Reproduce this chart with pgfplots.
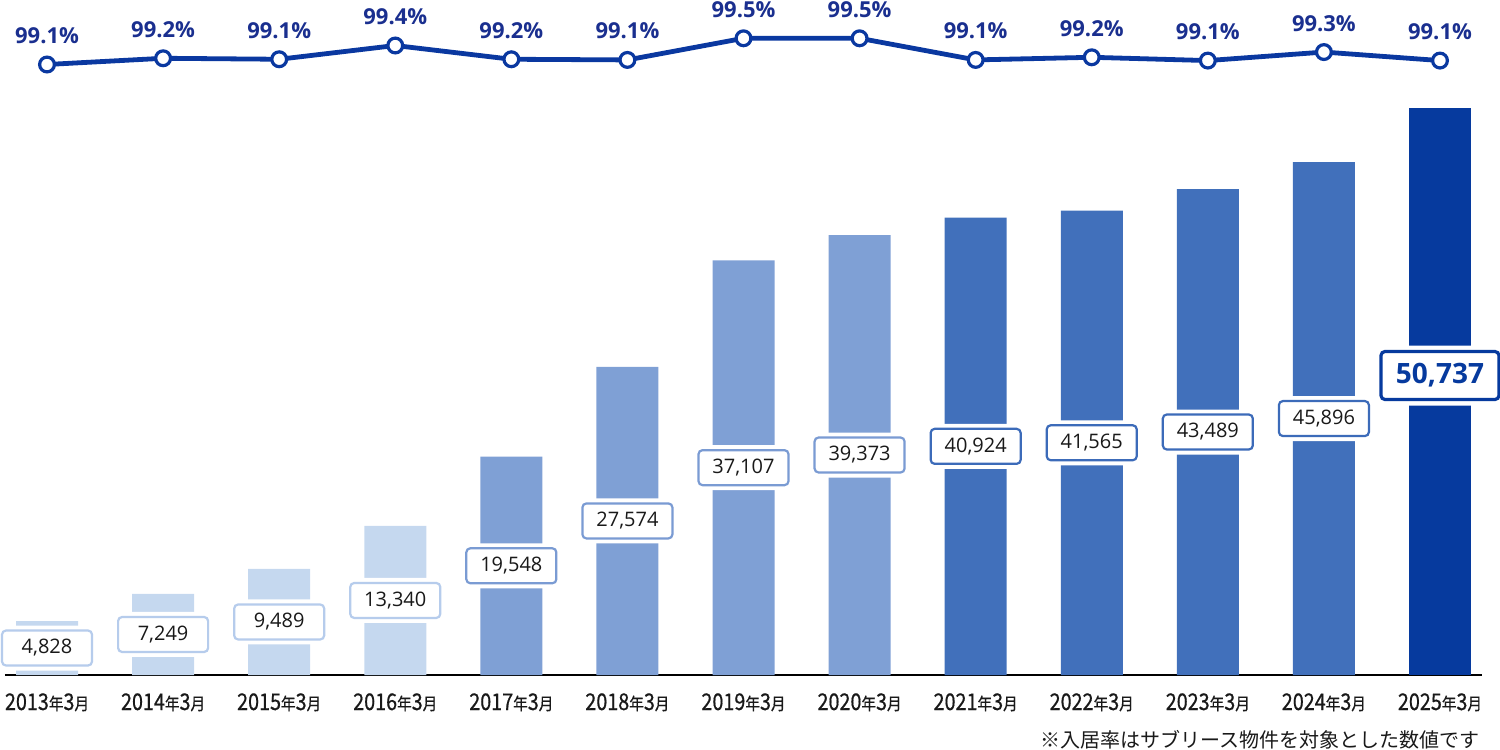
\documentclass[border=0pt]{standalone}
\usepackage{fontspec}
\usepackage{pgfplots}
\usepackage{pgfplotstable}
\pgfplotsset{compat=1.18}
\setmainfont{Open Sans}
\newfontfamily\cjk{Noto Sans CJK JP}
\newfontfamily\cjknarrow[FakeStretch=0.86, FakeBold=0.6]{Noto Sans CJK JP}
\definecolor{cA}{HTML}{C5D8EF}
\definecolor{bA}{HTML}{B6CCEC}
\definecolor{cB}{HTML}{7FA0D5}
\definecolor{bB}{HTML}{7A9BD3}
\definecolor{cC}{HTML}{4170BB}
\definecolor{bC}{HTML}{3C6BB9}
\definecolor{cD}{HTML}{063A9E}
\definecolor{cL}{HTML}{0A38A0}
\definecolor{cP}{HTML}{1A2F8F}

\pgfplotstableread{
x v lab
0 4828 4,828
1 7249 7,249
2 9489 9,489
3 13340 13,340
}\grpA
\pgfplotstableread{
x v lab
4 19548 19,548
5 27574 27,574
6 37107 37,107
7 39373 39,373
}\grpB
\pgfplotstableread{
x v lab
8 40924 40,924
9 41565 41,565
10 43489 43,489
11 45896 45,896
}\grpC
\pgfplotstableread{
x v lab
12 50737 50,737
}\grpD
\pgfplotstableread{
x r lab
0 99.10 99.1\%
1 99.195 99.2\%
2 99.18 99.1\%
3 99.39 99.4\%
4 99.18 99.2\%
5 99.17 99.1\%
6 99.50 99.5\%
7 99.50 99.5\%
8 99.17 99.1\%
9 99.21 99.2\%
10 99.16 99.1\%
11 99.29 99.3\%
12 99.16 99.1\%
}\rates

\newcommand{\yl}[1]{{\cjknarrow\fontsize{11.5}{13}\selectfont #1\fontsize{8.5}{10}\selectfont 年\fontsize{11.5}{13}\selectfont 3\fontsize{8.5}{10}\selectfont 月}}

\tikzset{
  vbox/.style={draw=#1, fill=white, line width=1.1pt, rounded corners=2pt,
    minimum width=45pt, minimum height=17.5pt, inner sep=0pt,
    preaction={draw=white, line width=5pt},
    font=\fontsize{10}{12}\selectfont, text=black!90, anchor=center},
  bigbox/.style={draw=cD, fill=white, line width=1.6pt, rounded corners=2pt,
    minimum width=59pt, minimum height=24pt, inner sep=0pt,
    preaction={draw=white, line width=6pt},
    font=\bfseries\fontsize{14}{16}\selectfont, text=cD, anchor=center, yshift=8pt}
}

\begin{document}
\begin{tikzpicture}
\path[use as bounding box] (-2.5pt,-37.5pt) rectangle (747.5pt,337.5pt);
\begin{axis}[
  at={(0,0)}, anchor=south west,
  scale only axis, width=738.5pt, height=337.5pt,
  xmin=-0.362, xmax=12.362, ymin=0, ymax=60403,
  axis x line=bottom, axis y line=none,
  x axis line style={-, black, line width=0.9pt},
  xtick={0,...,12}, major tick length=0pt,
  xticklabels={\yl{2013},\yl{2014},\yl{2015},\yl{2016},\yl{2017},\yl{2018},\yl{2019},\yl{2020},\yl{2021},\yl{2022},\yl{2023},\yl{2024},\yl{2025}},
  xticklabel style={anchor=base, yshift=-17.5pt, text=black!90},
  clip=false,
]
\addplot[ybar, bar width=31pt, bar shift=0pt, fill=cA, draw=none] table[x=x, y=v] {\grpA};
\addplot[ybar, bar width=31pt, bar shift=0pt, fill=cB, draw=none] table[x=x, y=v] {\grpB};
\addplot[ybar, bar width=31pt, bar shift=0pt, fill=cC, draw=none] table[x=x, y=v] {\grpC};
\addplot[ybar, bar width=31pt, bar shift=0pt, fill=cD, draw=none] table[x=x, y=v] {\grpD};

\addplot[draw=none, mark=none, nodes near coords, point meta=explicit symbolic,
  every node near coord/.style={vbox=bA}] table[x=x, y expr=\thisrow{v}/2, meta=lab] {\grpA};
\addplot[draw=none, mark=none, nodes near coords, point meta=explicit symbolic,
  every node near coord/.style={vbox=bB}] table[x=x, y expr=\thisrow{v}/2, meta=lab] {\grpB};
\addplot[draw=none, mark=none, nodes near coords, point meta=explicit symbolic,
  every node near coord/.style={vbox=bC}] table[x=x, y expr=\thisrow{v}/2, meta=lab] {\grpC};
\addplot[draw=none, mark=none, nodes near coords, point meta=explicit symbolic,
  every node near coord/.style={bigbox}] table[x=x, y expr=\thisrow{v}/2, meta=lab] {\grpD};
\end{axis}

\begin{axis}[
  at={(0,0)}, anchor=south west,
  scale only axis, width=738.5pt, height=337.5pt,
  xmin=-0.362, xmax=12.362, ymin=89.779, ymax=100.085,
  hide axis, clip=false,
]
\addplot[color=cL, line width=2.4pt, mark=*, mark size=3.7pt,
  mark options={fill=white, draw=cL, line width=1.6pt},
  nodes near coords, point meta=explicit symbolic,
  every node near coord/.style={anchor=base, yshift=10.5pt, inner sep=0pt,
    font=\bfseries\fontsize{11}{13}\selectfont, text=cP}]
  table[x=x, y=r, meta=lab] {\rates};
\end{axis}

\node[anchor=base east, inner sep=0pt, font=\cjk\fontsize{10}{12}\selectfont, text=black!90]
  at (737.5pt,-36pt) {※入居率はサブリース物件を対象とした数値です};
\end{tikzpicture}
\end{document}
